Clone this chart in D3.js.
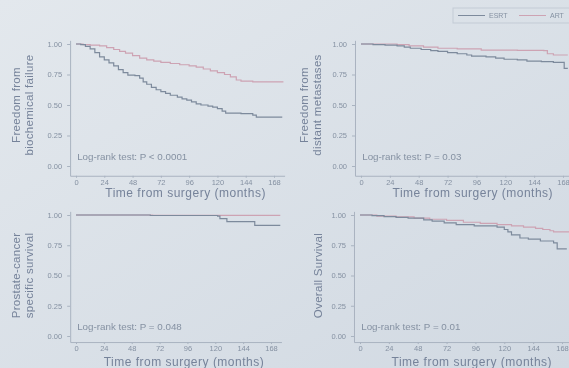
<!DOCTYPE html>
<html>
<head>
<meta charset="utf-8">
<script src="https://cdn.jsdelivr.net/npm/d3@7"></script>
<style>
  body { margin: 0; }
  svg { display: block; font-family: 'Liberation Sans', Arial, sans-serif; }
  .tick text { fill: #8591a2; font-size: 7.5px; }
  .tick line, .domain { stroke: #a9b3c0; }
  .axis-label { fill: #76839a; font-size: 12px; letter-spacing: 0.5px; }
  .ytitle { fill: #76839a; font-size: 11.5px; letter-spacing: 0.3px; }
  .note { fill: #8591a2; font-size: 9.8px; }
</style>
</head>
<body>
<svg width="569" height="368"></svg>
<script>
// Kaplan-Meier curves, values: [months, survival]
const xTicks = [0, 24, 48, 72, 96, 120, 144, 168];
const yTicks = [0, 0.25, 0.5, 0.75, 1];
const seriesNames = ['ESRT', 'ART'];

const bcfEsrt = [[0,1],[4,0.995],[8,0.98],[12,0.96],[16,0.93],[20,0.895],[24,0.87],[28,0.845],[32,0.82],[36,0.79],[40,0.765],[44,0.745],[50,0.74],[54,0.72],[57,0.69],[60,0.67],[64,0.645],[68,0.625],[72,0.61],[76,0.595],[80,0.58],[86,0.565],[90,0.55],[94,0.54],[98,0.525],[102,0.51],[106,0.5],[112,0.49],[116,0.483],[120,0.47],[124,0.45],[127,0.433],[140,0.43],[150,0.417],[153,0.4],[175,0.4]];
const bcfArt = [[0,1],[6,0.995],[12,0.99],[20,0.985],[26,0.97],[32,0.955],[37,0.94],[42,0.925],[48,0.905],[54,0.885],[60,0.87],[66,0.86],[72,0.85],[80,0.84],[88,0.83],[96,0.82],[102,0.81],[108,0.795],[114,0.78],[120,0.765],[126,0.75],[131,0.73],[136,0.705],[140,0.695],[150,0.69],[176,0.69]];

const dmEsrt = [[0,1],[10,0.995],[20,0.99],[30,0.985],[36,0.975],[41,0.965],[50,0.955],[58,0.945],[64,0.94],[72,0.93],[80,0.92],[88,0.91],[92,0.9],[104,0.895],[112,0.885],[119,0.875],[130,0.87],[138,0.86],[150,0.855],[160,0.85],[169,0.8],[172,0.8]];
const dmArt = [[0,1],[30,0.995],[40,0.985],[52,0.975],[64,0.965],[80,0.96],[100,0.95],[130,0.948],[152,0.945],[155,0.92],[160,0.91],[172,0.91]];

const cssEsrt = [[0,1],[64,0.996],[122,0.99],[124,0.97],[130,0.945],[154,0.915],[176,0.915]];
const cssArt = [[0,1],[66,0.997],[176,0.997]];

const osEsrt = [[0,1],[10,0.995],[20,0.986],[30,0.98],[40,0.975],[53,0.96],[60,0.95],[70,0.935],[80,0.92],[95,0.91],[114,0.9],[120,0.88],[123,0.86],[126,0.835],[133,0.81],[140,0.8],[150,0.785],[161,0.77],[164,0.72],[172,0.72]];
const osArt = [[0,1],[14,0.99],[30,0.985],[45,0.975],[58,0.965],[72,0.955],[86,0.94],[100,0.93],[114,0.92],[126,0.91],[136,0.9],[146,0.89],[152,0.88],[158,0.87],[161,0.86],[174,0.86]];

const svg = d3.select('svg');
const width = +svg.attr('width');
const height = +svg.attr('height');

const colors = {ESRT: '#7d8a9c', ART: '#cda3b3'};

// photo-like background and softness
const defs = svg.append('defs');
const grad = defs.append('linearGradient')
  .attr('id', 'bg').attr('x1', 0).attr('y1', 0).attr('x2', 1).attr('y2', 1);
grad.append('stop').attr('offset', '0%').attr('stop-color', '#e3e8ed');
grad.append('stop').attr('offset', '100%').attr('stop-color', '#d1d9e2');
defs.append('filter').attr('id', 'soft')
  .append('feGaussianBlur').attr('stdDeviation', 0.45);

svg.append('rect').attr('width', width).attr('height', height).attr('fill', 'url(#bg)');
const root = svg.append('g').attr('filter', 'url(#soft)');

const panels = [
  {x0: 76, x168: 274, y1: 44, y0: 166, yLow: -0.08, titleY: 197, yt: ['Freedom from', 'biochemical failure'], ytX: 16,
   note: 'Log-rank test: P < 0.0001', esrt: bcfEsrt, art: bcfArt},
  {x0: 361, x168: 563, y1: 44, y0: 166, yLow: -0.08, titleY: 197, yt: ['Freedom from', 'distant metastases'], ytX: 304,
   note: 'Log-rank test: P = 0.03', esrt: dmEsrt, art: dmArt},
  {x0: 76, x168: 271, y1: 215, y0: 336, yLow: -0.05, titleY: 366, yt: ['Prostate-cancer', 'specific survival'], ytX: 16,
   note: 'Log-rank test: P = 0.048', esrt: cssEsrt, art: cssArt},
  {x0: 360, x168: 562, y1: 215, y0: 336, yLow: -0.05, titleY: 366, yt: ['Overall Survival'], ytX: 318,
   note: 'Log-rank test: P = 0.01', esrt: osEsrt, art: osArt}
];

const drawPanel = p => {
  const xScale = d3.scaleLinear().domain([0, 168]).range([p.x0, p.x168]);
  const yScale = d3.scaleLinear().domain([0, 1]).range([p.y0, p.y1]);

  const xExt = [-5, 177];
  const yExt = [p.yLow, 1.03];
  const xAxisScale = d3.scaleLinear().domain(xExt).range(xExt.map(xScale));
  const yAxisScale = d3.scaleLinear().domain(yExt).range(yExt.map(yScale));

  const g = root.append('g');

  g.append('g')
    .attr('transform', `translate(0,${yAxisScale(yExt[0])})`)
    .call(d3.axisBottom(xAxisScale).tickValues(xTicks).tickSize(2).tickSizeOuter(0).tickPadding(1.5));

  g.append('g')
    .attr('transform', `translate(${xAxisScale(xExt[0])},0)`)
    .call(d3.axisLeft(yAxisScale).tickValues(yTicks).tickFormat(d3.format('.2f'))
      .tickSize(3).tickSizeOuter(0).tickPadding(5));

  const line = d3.line()
    .x(d => xScale(d[0]))
    .y(d => yScale(d[1]))
    .curve(d3.curveStepAfter);

  g.append('path').datum(p.art)
    .attr('fill', 'none').attr('stroke', colors.ART).attr('stroke-width', 1.2)
    .attr('d', line);
  g.append('path').datum(p.esrt)
    .attr('fill', 'none').attr('stroke', colors.ESRT).attr('stroke-width', 1.2)
    .attr('d', line);

  g.append('text')
    .attr('class', 'note')
    .attr('x', xScale(1))
    .attr('y', yScale(0.05))
    .text(p.note);

  g.append('text')
    .attr('class', 'axis-label')
    .attr('x', (xScale(10) + xScale(176)) / 2)
    .attr('y', p.titleY)
    .attr('text-anchor', 'middle')
    .text('Time from surgery (months)');

  const midY = (p.y0 + p.y1) / 2;
  p.yt.forEach((t, i) => {
    g.append('text')
      .attr('class', 'ytitle')
      .attr('transform', `translate(${p.ytX + i * 13 + 4},${midY}) rotate(-90)`)
      .attr('text-anchor', 'middle')
      .text(t);
  });
};

panels.forEach(drawPanel);

// legend, cut off by the right edge like the photo
const legend = root.append('g');
legend.append('rect')
  .attr('x', 453).attr('y', 8).attr('width', 130).attr('height', 15)
  .attr('fill', 'none').attr('stroke', '#c3cbd5');
seriesNames.forEach((name, i) => {
  const lx = 458 + i * 61;
  legend.append('line')
    .attr('x1', lx).attr('x2', lx + 27).attr('y1', 15.5).attr('y2', 15.5)
    .attr('stroke', colors[name]);
  legend.append('text')
    .attr('x', lx + 31).attr('y', 18)
    .attr('fill', '#8591a2').attr('font-size', 7)
    .text(name);
});
</script>
</body>
</html>
